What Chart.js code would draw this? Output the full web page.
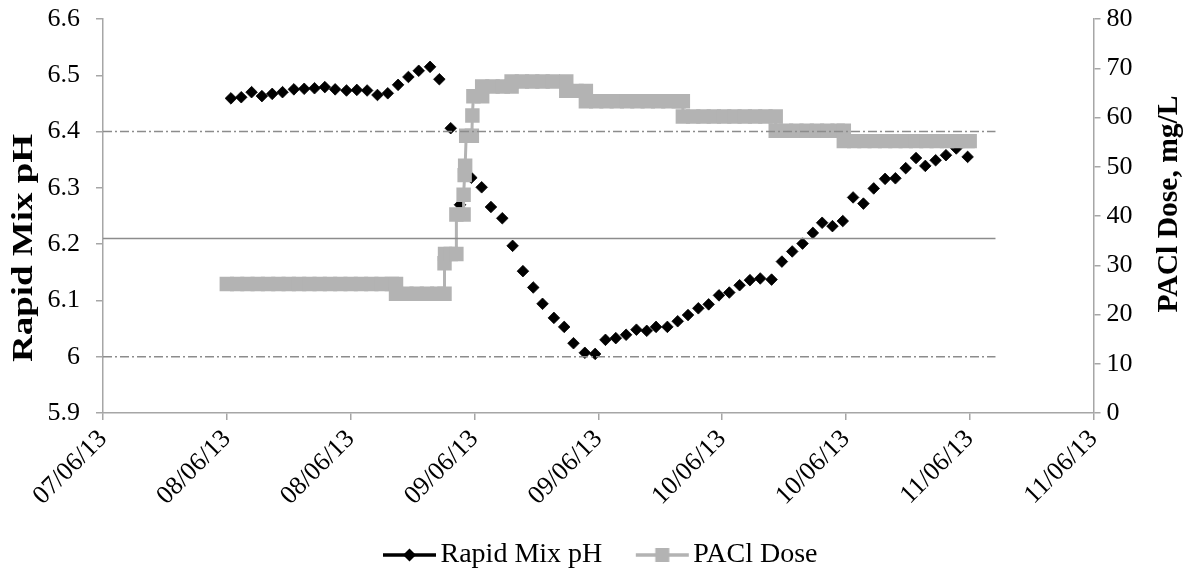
<!DOCTYPE html>
<html>
<head>
<meta charset="utf-8">
<title>Rapid Mix pH and PACl Dose</title>
<script src="https://cdn.jsdelivr.net/npm/chart.js@4.4.1/dist/chart.umd.min.js"></script>
<style>
  html, body { margin: 0; padding: 0; background: #fff; }
  #wrap { width: 1199px; height: 579px; position: relative; }
</style>
</head>
<body>
<div id="wrap"><canvas id="phChart"></canvas></div>
<script>
// Time is kept in hours counted from 07/06/13 12:00, the left end of the axis.
const tickLabels = ['07/06/13', '08/06/13', '08/06/13', '09/06/13', '09/06/13',
                    '10/06/13', '10/06/13', '11/06/13', '11/06/13'];

// Rapid mix pH, hourly readings
const phHours = [12.4, 13.4, 14.4, 15.4, 16.4, 17.4, 18.5, 19.5, 20.5, 21.5,
                 22.5, 23.6, 24.6, 25.6, 26.6, 27.6, 28.6, 29.6, 30.6, 31.7,
                 32.6, 33.7, 34.6, 35.7, 36.7, 37.6, 38.7, 39.7, 40.7, 41.7,
                 42.6, 43.7, 44.7, 45.6, 46.7, 47.7, 48.7, 49.7, 50.7, 51.7,
                 52.7, 53.6, 54.7, 55.7, 56.7, 57.7, 58.7, 59.7, 60.7, 61.7,
                 62.7, 63.7, 64.8, 65.8, 66.8, 67.8, 68.8, 69.7, 70.7, 71.7,
                 72.7, 73.7, 74.7, 75.8, 76.8, 77.8, 78.8, 79.7, 80.7, 81.7,
                 82.7, 83.8];
const phValues = [6.459, 6.461, 6.470, 6.463, 6.467, 6.470, 6.475, 6.476, 6.477, 6.479,
                  6.475, 6.473, 6.474, 6.473, 6.465, 6.468, 6.483, 6.497, 6.508, 6.515,
                  6.493, 6.406, 6.270, 6.318, 6.301, 6.266, 6.246, 6.197, 6.152, 6.123,
                  6.094, 6.069, 6.053, 6.024, 6.007, 6.005, 6.030, 6.033, 6.039, 6.048,
                  6.046, 6.053, 6.053, 6.063, 6.074, 6.086, 6.093, 6.109, 6.114, 6.127,
                  6.136, 6.139, 6.137, 6.169, 6.187, 6.201, 6.220, 6.238, 6.232, 6.241,
                  6.283, 6.272, 6.299, 6.316, 6.317, 6.335, 6.353, 6.339, 6.349, 6.358,
                  6.370, 6.355];

// PACl dose set points (mg/L); repeated hours mark a step change
const paclHours = [12, 13, 14, 15, 16, 17, 18, 19, 20, 21, 22, 23, 24, 25, 26, 27, 28, 28.4,
                   28.4, 29.4, 30.4, 31.4, 32.4, 33.1,
                   33.1, 33.15, 33.7, 34.25, 34.25, 34.95, 34.95, 35.05, 35.1, 35.2, 35.75,
                   35.8, 35.9, 36.75,
                   36.75, 37.75, 38.75, 39.6,
                   39.6, 40.6, 41.6, 42.6, 43.6, 44.9,
                   44.9, 45.9, 46.8,
                   46.8, 47.8, 48.8, 49.8, 50.8, 51.8, 52.8, 53.8, 54.8, 55.8, 56.2,
                   56.2, 57.2, 58.2, 59.2, 60.2, 61.2, 62.2, 63.2, 64.2, 65.2,
                   65.2, 66.2, 67.2, 68.2, 69.2, 70.2, 71.2, 71.8,
                   71.8, 72.8, 73.8, 74.8, 75.8, 76.8, 77.8, 78.8, 79.8, 80.8, 81.8, 82.8, 83.8, 84];
const paclValues = [26.2, 26.2, 26.2, 26.2, 26.2, 26.2, 26.2, 26.2, 26.2, 26.2, 26.2, 26.2, 26.2, 26.2, 26.2, 26.2, 26.2, 26.2,
                    24.2, 24.2, 24.2, 24.2, 24.2, 24.2,
                    30.4, 32.3, 32.3, 32.3, 40.3, 40.3, 44.3, 48.3, 50.2, 56.3, 56.3,
                    60.4, 64.3, 64.3,
                    66.3, 66.3, 66.3, 66.3,
                    67.3, 67.3, 67.3, 67.3, 67.3, 67.3,
                    65.4, 65.4, 65.4,
                    63.3, 63.3, 63.3, 63.3, 63.3, 63.3, 63.3, 63.3, 63.3, 63.3, 63.3,
                    60.2, 60.2, 60.2, 60.2, 60.2, 60.2, 60.2, 60.2, 60.2, 60.2,
                    57.3, 57.3, 57.3, 57.3, 57.3, 57.3, 57.3, 57.3,
                    55.2, 55.2, 55.2, 55.2, 55.2, 55.2, 55.2, 55.2, 55.2, 55.2, 55.2, 55.2, 55.2, 55.2];

// pH control band and set point
const phLimits = [6.4, 6.0];
const phTarget = 6.21;
const refHours = [0, 86.5];

const FONT = "'Liberation Serif', 'Times New Roman', serif";
const AXIS_GREY = '#a6a6a6';
const PACL_GREY = '#b3b3b3';

const toPoints = (xs, ys) => xs.map((x, i) => ({ x: x, y: ys[i] }));

// legend swatch: a short line with the series marker on it
function legendSwatch(color, marker, size) {
    const c = document.createElement('canvas');
    c.width = 66; c.height = 18;
    const g = c.getContext('2d');
    g.strokeStyle = color;
    g.fillStyle = color;
    g.lineWidth = 3.5;
    g.beginPath();
    g.moveTo(12, 9); g.lineTo(65, 9);
    g.stroke();
    const cx = 38.5;
    g.beginPath();
    if (marker === 'diamond') {
        g.moveTo(cx - size, 9); g.lineTo(cx, 9 - size); g.lineTo(cx + size, 9); g.lineTo(cx, 9 + size);
    } else {
        g.rect(cx - size, 9 - size, size * 2, size * 2);
    }
    g.closePath();
    g.fill();
    return c;
}

const refLine = (y, dash) => ({
    label: '',
    data: toPoints(refHours, [y, y]),
    yAxisID: 'y',
    borderColor: '#8c8c8c',
    borderWidth: 1.5,
    borderDash: dash,
    pointRadius: 0,
    fill: false,
    order: 0,
    isRef: true
});

// both axis titles read bottom-to-top, stretched along the text to their length
const axisTitleList = [
    { text: 'Rapid Mix pH', scale: 'y', side: 'left', inset: 25, shift: 32, length: 228 },
    { text: 'PACl Dose, mg/L', scale: 'y2', side: 'right', inset: 29, shift: -12, length: 217 }
];
const axisTitles = {
    id: 'axisTitles',
    afterDraw(chart) {
        const g = chart.ctx;
        const area = chart.chartArea;
        axisTitleList.forEach(t => {
            const sc = chart.scales[t.scale];
            const x = t.side === 'left' ? sc.left + t.inset : sc.right - t.inset;
            const y = (area.top + area.bottom) / 2 + t.shift;
            g.save();
            g.font = 'bold 29px ' + FONT;
            g.fillStyle = '#000';
            g.textAlign = 'center';
            g.textBaseline = 'middle';
            const w = g.measureText(t.text).width;
            g.translate(x, y);
            g.rotate(-Math.PI / 2);
            g.scale(t.length / w, 1);
            g.fillText(t.text, 0, 0);
            g.restore();
        });
    }
};

// fixed axis boxes, so the plot area keeps its place whatever the label sizes
const fixBox = (w, h) => function(scale) {
    if (w) scale.width = w;
    if (h) scale.height = h;
    scale.paddingTop = scale.paddingBottom = 0;
    scale.paddingLeft = scale.paddingRight = 0;
};

const ctx = document.getElementById('phChart');
new Chart(ctx, {
    type: 'line',
    data: {
        datasets: [
            {
                label: 'Rapid Mix pH',
                data: toPoints(phHours, phValues),
                yAxisID: 'y',
                showLine: false,
                pointStyle: 'rectRot',
                pointRadius: 5.8,
                pointBackgroundColor: '#000',
                pointBorderColor: '#000',
                pointBorderWidth: 0.8,
                borderColor: '#000',
                order: 2,
                swatch: legendSwatch('#000', 'diamond', 6.5)
            },
            {
                label: 'PACl Dose',
                data: toPoints(paclHours, paclValues),
                yAxisID: 'y2',
                borderColor: PACL_GREY,
                borderWidth: 3,
                tension: 0,
                pointStyle: 'rect',
                pointRadius: 10.2,
                pointBackgroundColor: PACL_GREY,
                pointBorderWidth: 0,
                order: 1,
                swatch: legendSwatch(PACL_GREY, 'square', 7)
            },
            refLine(phLimits[0], [9, 3, 2, 3]),
            refLine(phLimits[1], [9, 3, 2, 3]),
            refLine(phTarget, [])
        ]
    },
    options: {
        responsive: true,
        maintainAspectRatio: false,
        animation: false,
        events: [],
        layout: { padding: { top: 19, left: 0, right: 0, bottom: 0 } },
        plugins: {
            tooltip: { enabled: false },
            legend: {
                position: 'bottom',
                labels: {
                    usePointStyle: true,
                    pointStyleWidth: 45,
                    padding: 32,
                    color: '#000',
                    font: { family: FONT, size: 28 },
                    generateLabels: function(chart) {
                        return chart.data.datasets
                            .filter(ds => !ds.isRef)
                            .map(ds => ({
                                text: ds.label,
                                pointStyle: ds.swatch,
                                fillStyle: ds.borderColor,
                                strokeStyle: ds.borderColor,
                                lineWidth: 0,
                                hidden: false,
                                fontColor: '#000'
                            }));
                    }
                }
            }
        },
        scales: {
            x: {
                type: 'linear',
                min: 0,
                max: 96,
                afterBuildTicks: function(scale) {
                    scale.ticks = tickLabels.map((t, i) => ({ value: i * 12 }));
                },
                afterFit: fixBox(0, 96),
                ticks: {
                    autoSkip: false,
                    minRotation: 45,
                    maxRotation: 45,
                    padding: 4,
                    color: '#000',
                    font: { family: FONT, size: 26 },
                    callback: (v, i) => tickLabels[i]
                },
                grid: { drawOnChartArea: false, drawTicks: true, tickLength: 7, color: AXIS_GREY, lineWidth: 1.5 },
                border: { color: AXIS_GREY, width: 1.5 }
            },
            y: {
                position: 'left',
                min: 5.9,
                max: 6.6,
                afterFit: fixBox(103, 0),
                ticks: {
                    stepSize: 0.1,
                    padding: 16,
                    color: '#000',
                    font: { family: FONT, size: 26 },
                    callback: v => String(Number(v.toFixed(1)))
                },
                grid: { drawOnChartArea: false, drawTicks: true, tickLength: 7, color: AXIS_GREY, lineWidth: 1.5 },
                border: { color: AXIS_GREY, width: 1.5 }
            },
            y2: {
                position: 'right',
                min: 0,
                max: 80,
                afterFit: fixBox(105.5, 0),
                ticks: {
                    stepSize: 10,
                    padding: 6,
                    color: '#000',
                    font: { family: FONT, size: 26 }
                },
                grid: { drawOnChartArea: false, drawTicks: true, tickLength: 7, color: AXIS_GREY, lineWidth: 1.5 },
                border: { color: AXIS_GREY, width: 1.5 }
            }
        }
    },
    plugins: [axisTitles]
});
</script>
</body>
</html>
